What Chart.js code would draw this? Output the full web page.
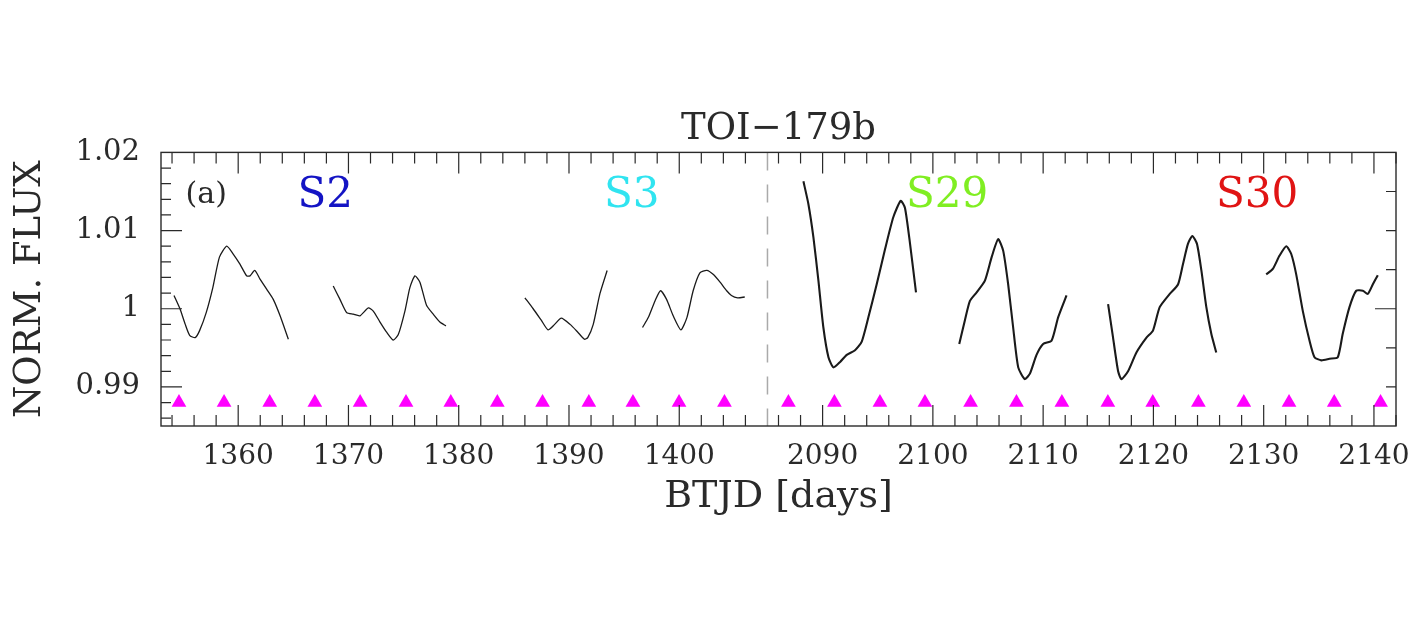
<!DOCTYPE html>
<html><head><meta charset="utf-8">
<script src="https://cdn.jsdelivr.net/npm/chart.js@4.4.1/dist/chart.umd.min.js"></script>
<style>html,body{margin:0;padding:0;background:#fff;}#wrap{width:1428px;height:637px;}</style>
</head><body><div id="wrap"><canvas id="c" width="1428" height="637"></canvas></div>
<script>
// ---- data (BTJD days, normalized flux) ----
const S2A_T = [1354.18,1354.72,1355.2,1355.6,1356.1,1356.5,1357.1,1357.7,1358.3,1358.96,1359.55,1360.16,1360.77,1361.07,1361.5,1361.98,1362.58,1363.18,1363.8,1364.55];
const S2A_F = [1.0017,1.0000,0.9980,0.9966,0.9963,0.9972,0.9995,1.0027,1.0066,1.0080,1.0070,1.0057,1.0042,1.0042,1.0049,1.0038,1.0025,1.0012,0.9991,0.9961];
const S2B_T = [1368.62,1369.23,1369.84,1370.44,1371.04,1371.8,1372.25,1372.86,1373.46,1374.06,1374.52,1375.12,1375.57,1376.03,1376.48,1377.09,1377.69,1378.29,1378.84];
const S2B_F = [1.0029,1.0012,0.9995,0.9993,0.9991,1.0001,0.9997,0.9983,0.9970,0.9960,0.9967,0.9997,1.0027,1.0042,1.0034,1.0004,0.9993,0.9983,0.9978];
const S3A_T = [1386.0,1386.75,1387.5,1388.1,1388.7,1389.3,1390.1,1390.8,1391.4,1391.7,1392.2,1392.8,1393.46];
const S3A_F = [1.0014,1.0000,0.9985,0.9973,0.9980,0.9988,0.9980,0.9970,0.9961,0.9963,0.9980,1.0019,1.0049];
const S3B_T = [1396.67,1397.2,1397.8,1398.3,1398.85,1399.45,1400.15,1400.7,1401.26,1401.87,1402.5,1403.07,1403.7,1404.3,1404.73,1405.3,1405.94];
const S3B_F = [0.9976,0.9989,1.0010,1.0023,1.0012,0.9991,0.9973,0.9989,1.0023,1.0046,1.0049,1.0044,1.0034,1.0023,1.0017,1.0014,1.0015];
const S29A_T = [2088.26,2088.71,2089.17,2089.62,2090.07,2090.53,2090.98,2091.59,2092.19,2092.94,2093.55,2094.15,2094.9,2095.66,2096.41,2097.08,2097.47,2097.93,2098.47];
const S29A_F = [1.0163,1.0134,1.0091,1.0036,0.9976,0.9938,0.9925,0.9932,0.9941,0.9947,0.9958,0.9989,1.0031,1.0076,1.0117,1.0138,1.0129,1.0083,1.0021];
const S29B_T = [2102.39,2102.9,2103.36,2103.97,2104.72,2105.33,2105.92,2106.38,2106.83,2107.28,2107.74,2108.34,2108.8,2109.4,2110.0,2110.76,2111.36,2112.12];
const S29B_F = [0.9955,0.9985,1.0010,1.0021,1.0036,1.0066,1.0089,1.0074,1.0031,0.9976,0.9925,0.9910,0.9917,0.9941,0.9955,0.9959,0.9989,1.0017];
const S30A_T = [2115.89,2116.34,2116.8,2117.1,2117.7,2118.46,2119.37,2119.96,2120.57,2121.48,2122.23,2122.68,2123.13,2123.53,2123.95,2124.35,2124.8,2125.25,2125.7];
const S30A_F = [1.0006,0.9963,0.9920,0.9910,0.9920,0.9944,0.9963,0.9972,1.0002,1.0019,1.0031,1.0057,1.0083,1.0093,1.0083,1.0049,1.0002,0.9968,0.9944];
const S30B_T = [2130.23,2130.83,2131.44,2132.05,2132.5,2132.95,2133.55,2134.16,2134.61,2135.22,2135.97,2136.72,2137.17,2137.78,2138.39,2138.99,2139.44,2139.89,2140.35];
const S30B_F = [1.0044,1.0051,1.0068,1.0080,1.0070,1.0044,0.9997,0.9959,0.9938,0.9934,0.9936,0.9938,0.9968,1.0002,1.0023,1.0023,1.0019,1.0031,1.0043];

const TRANSIT_T = [1354.63,1358.72,1362.86,1366.95,1371.06,1375.22,1379.28,1383.5,1387.6,1391.8,1395.8,1399.98,1404.1,
                   2086.9,2091.07,2095.2,2099.28,2103.42,2107.58,2111.7,2115.87,2119.94,2124.08,2128.2,2132.3,2136.4,2140.6];
const TRANSIT_F = 0.988;

const X_TICKS = [1360,1370,1380,1390,1400,2090,2100,2110,2120,2130,2140];
const Y_TICKS = [0.99,1.00,1.01,1.02];
const Y_TICK_LABELS = ['0.99','1','1.01','1.02'];

const SECTOR_LABELS = ['S2','S3','S29','S30'];
const SECTOR_T = [1367.9,1395.7,2101.3,2129.4];
const SECTOR_F = 1.0130;
const SECTOR_COLORS = ['#1414c4','#30e4f0','#80ee22','#e01414'];

const PANEL_LABEL = '(a)';
const PANEL_T = 1357.1, PANEL_F = 1.0135;

const GAP_START = 1408, GAP_END = 2085;   // axis break
const X_MIN = 1353, X_MAX = 2142;
const Y_MIN = 0.985, Y_MAX = 1.02;

// ---- broken-axis mapping ----
function tx(t){ return t >= GAP_END ? t - (GAP_END - GAP_START) : t; }
function ix(x){ return x > GAP_START + 0.5 ? x + (GAP_END - GAP_START) : x; }

const FONT = "'DejaVu Serif', serif";
const INK = '#2a2a2a';

const SEGMENTS = [
  [S2A_T,S2A_F,1.3],[S2B_T,S2B_F,1.3],[S3A_T,S3A_F,1.3],[S3B_T,S3B_F,1.3],
  [S29A_T,S29A_F,2.1],[S29B_T,S29B_F,2.1],[S30A_T,S30A_F,2.1],[S30B_T,S30B_F,2.1]
];

const datasets = SEGMENTS.map(([T,F,w]) => ({
  data: T.map((t,i) => ({x: tx(t), y: F[i]})),
  showLine: true, borderColor: '#1a1a1a', borderWidth: w, pointRadius: 0, tension: 0.2
}));
datasets.push({
  data: TRANSIT_T.map(t => ({x: tx(t), y: TRANSIT_F})),
  showLine: false, pointStyle: 'triangle', pointRadius: 8.5,
  backgroundColor: '#ff00ff', borderColor: '#ff00ff', borderWidth: 0
});

const framePlugin = {
  id: 'frame',
  afterDatasetsDraw(chart){
    const {ctx, chartArea: a, scales: {x, y}} = chart;
    ctx.save();
    // break line
    const bx = x.getPixelForValue(GAP_START);
    ctx.strokeStyle = '#aaaaaa'; ctx.lineWidth = 1.5; ctx.setLineDash([18, 14]);
    ctx.beginPath(); ctx.moveTo(bx, a.top); ctx.lineTo(bx, a.bottom); ctx.stroke();
    ctx.setLineDash([]);
    // frame
    ctx.strokeStyle = INK; ctx.lineWidth = 1.4;
    ctx.strokeRect(a.left, a.top, a.right - a.left, a.bottom - a.top);
    ctx.lineWidth = 1.2;
    ctx.beginPath();
    const ranges = [[Math.ceil(X_MIN), GAP_START - 1], [GAP_END + 1, Math.floor(X_MAX)]];
    for (const [s, e] of ranges) {
      for (let t = s; t <= e; t++) {
        if (t % 2 !== 0) continue;
        const px = x.getPixelForValue(tx(t));
        const L = t % 10 === 0 ? 21 : 11;
        ctx.moveTo(px, a.bottom); ctx.lineTo(px, a.bottom - L);
        ctx.moveTo(px, a.top); ctx.lineTo(px, a.top + L);
      }
    }
    for (let k = 986; k <= 1018; k += 2) {
      const py = y.getPixelForValue(k / 1000);
      const L = k % 10 === 0 ? 21 : 10;
      ctx.moveTo(a.left, py); ctx.lineTo(a.left + L, py);
    }
    for (let k = 990; k <= 1015; k += 5) {
      const py = y.getPixelForValue(k / 1000);
      const L = k % 20 === 0 ? 21 : 10;
      ctx.moveTo(a.right, py); ctx.lineTo(a.right - L, py);
    }
    ctx.stroke();
    // labels
    ctx.textAlign = 'center'; ctx.textBaseline = 'alphabetic';
    ctx.font = "42px " + FONT;
    SECTOR_LABELS.forEach((s, i) => {
      ctx.fillStyle = SECTOR_COLORS[i];
      ctx.fillText(s, x.getPixelForValue(tx(SECTOR_T[i])), y.getPixelForValue(SECTOR_F));
    });
    ctx.font = "30px " + FONT; ctx.fillStyle = INK;
    ctx.fillText(PANEL_LABEL, x.getPixelForValue(tx(PANEL_T)), y.getPixelForValue(PANEL_F));
    ctx.restore();
  }
};

new Chart(document.getElementById('c'), {
  type: 'scatter',
  data: { datasets },
  options: {
    responsive: false, animation: false, devicePixelRatio: 1,
    layout: { padding: { top: 0, right: 32, bottom: 0, left: 0 } },
    plugins: {
      legend: { display: false }, tooltip: { enabled: false },
      title: { display: true, text: 'TOI\u2212179b', color: INK, fullSize: false,
               font: { family: FONT, size: 37, weight: 'normal' }, padding: { top: 107, bottom: 1 } }
    },
    scales: {
      x: {
        type: 'linear', min: tx(X_MIN), max: tx(X_MAX),
        grid: { display: false, drawTicks: false }, border: { display: false },
        afterBuildTicks: s => { s.ticks = X_TICKS.map(t => ({ value: tx(t) })); },
        afterFit: s => { s.height = 211; },
        ticks: { padding: 14, color: INK, font: { family: FONT, size: 28 }, maxRotation: 0, autoSkip: false,
                 callback: v => String(Math.round(ix(v))) },
        title: { display: true, text: 'BTJD [days]', color: INK, font: { family: FONT, size: 38 },
                 padding: { top: 0, bottom: 117 } }
      },
      y: {
        type: 'linear', min: Y_MIN, max: Y_MAX,
        grid: { display: false, drawTicks: false }, border: { display: false },
        afterBuildTicks: s => { s.ticks = Y_TICKS.map(v => ({ value: v })); },
        afterFit: s => { s.width = 161; },
        ticks: { padding: 21, color: INK, font: { family: FONT, size: 29 }, autoSkip: false,
                 callback: (v, i) => Y_TICK_LABELS[i] },
        title: { display: true, text: 'NORM. FLUX', color: INK, font: { family: FONT, size: 37 },
                 padding: { top: 8, bottom: 0 } }
      }
    }
  },
  plugins: [framePlugin]
});
</script></body></html>
